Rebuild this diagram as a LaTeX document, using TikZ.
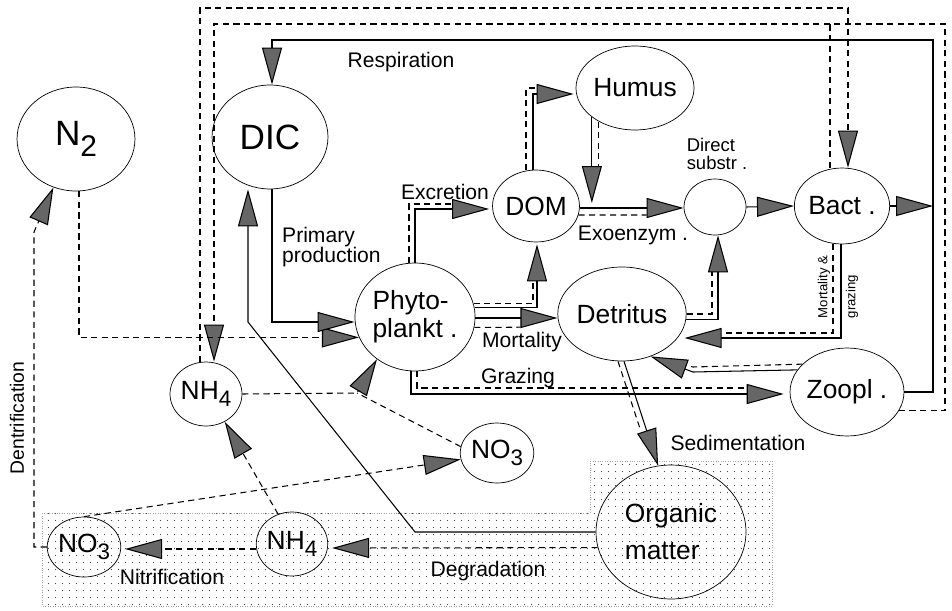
\documentclass[tikz,border=0pt]{standalone}
\usepackage{fontspec}
\setmainfont{Liberation Sans}
\usetikzlibrary{shapes.geometric,arrows.meta,calc,patterns.meta}

\newcommand\lowidx[1]{\raisebox{-0.55ex}{\scalebox{0.85}{#1}}}
\newcommand\bigfont{\fontsize{20}{22}\selectfont}
\newcommand\midfont{\fontsize{15}{16}\selectfont}
\newcommand\labfont{\fontsize{12}{11.5}\selectfont}
\newcommand\smallfont{\fontsize{10.5}{10}\selectfont}
\newcommand\tinyfont{\fontsize{7.5}{8}\selectfont}

\tikzset{
  pool/.style={draw, ellipse, inner sep=0pt, align=left, font=\midfont},
  dims/.style 2 args={minimum width=#1*0.04cm, minimum height=#2*0.04cm},
  carbon/.style={line width=0.6pt},
  nitro/.style={line width=0.6pt, dash pattern=on 3.5pt off 2.5pt},
  joined/.style={shorten >=0.74cm},
  sediment/.style={pattern={Dots[distance=0.14cm, radius=0.4pt]}, pattern color=black!70,
    draw=black!35, densely dotted}
}

\begin{document}
\begin{tikzpicture}[x=0.02cm, y=-0.02cm, >={Triangle[length=0.74cm, width=0.4cm, fill=black!60]}]
\useasboundingbox (0,0) rectangle (952,611);

% the sediment layer
\draw[sediment] (42,513) -- (590,513) -- (590,461) -- (772,461) -- (772,606) -- (42,606) -- cycle;

% the pools
\node[pool, dims={59}{52}, font=\bigfont] (n2) at (76,139) {N\lowidx{2}};
\node[pool, dims={58}{52}, font=\bigfont] (dic) at (270,137) {DIC};
\node[pool, dims={46}{42}] (humus) at (635,88) {Humus};
\node[pool, dims={40}{36}] (dom) at (536,206) {DOM};
\node[pool, dims={31}{28}] (sub) at (715,207) {};
\node[pool, dims={43}{38}] (bact) at (842,206) {Bact .};
\node[pool, dims={60}{54}] (phyto) at (415,317) {Phyto-\\plankt .};
\node[pool, dims={52}{47}] (detr) at (622,314) {Detritus};
\node[pool, dims={49}{44}] (zoopl) at (847,392) {Zoopl .};
\node[pool, dims={36}{32}] (nhup) at (206,394) {NH\lowidx{4}};
\node[pool, dims={35}{30}] (noup) at (497,453) {NO\lowidx{3}};
\node[pool, dims={34}{30}] (nolo) at (84,547) {NO\lowidx{3}};
\node[pool, dims={35}{32}] (nhlo) at (292,544) {NH\lowidx{4}};
\node[pool, dims={75}{67}] (org) at (671,532) {Organic\\[5pt]matter};

\coordinate (rline) at (933,40);
\coordinate (nline) at (945,24);
\coordinate (hdrop) at (599,203);
\coordinate (zbend) at (693,372);

% nitrogen flows
\draw[nitro,->] ($(nhup.north)+(-6,0)$) |- (848,8) -- ($(bact.north)+(6,0)$);
\draw[nitro,->] (zoopl.-20) -| (nline) -| ($(nhup.north)+(8,0)$);
\draw[nitro] ($(bact.north)+(-12,0)$) coordinate (bx) -- (bx |- nline);
\draw[nitro,->] ($(n2.south)+(3,0)$) |- (phyto.200);
\draw[nitro,->] (nolo.west) -| (34,232) -- (n2.245);
\draw[nitro,->] (org.192) -- ($(nhlo.east)+(4,4)$);
\draw[nitro,->] ($(nhlo.west)+(0,5)$) -- ($(nolo.east)+(4,2)$);
\draw[nitro,->] (nhlo.115) -- (nhup.-56);
\draw[nitro,->] (nolo.north) -- (noup.190);
\draw[nitro,->] (nhup.east) -- (357,393) coordinate (uptake) -- (phyto.228);
\draw[nitro] (noup.170) -- (uptake);
\draw[nitro,joined] ($(phyto.north)+(-6,0)$) |- ($(dom.west)+(-3,-2)$);
\draw[nitro,joined] (phyto.13) -| ($(dom.south)+(-3,2)$);
\draw[nitro,joined] (phyto.-10) -- ($(detr.west)+(0,13)$);
\draw[nitro,joined] ($(phyto.south)+(2,0)$) |- ($(zoopl.west)+(-6,-4)$);
\draw[nitro,joined] ($(dom.north)+(-10,0)$) |- ($(humus.west)+(-2,0)$);
\draw[nitro,joined] (humus.223) -- (humus.223 |- hdrop);
\draw[nitro,joined] (dom.-12) -- ($(sub.west)+(0,8)$);
\draw[nitro,joined] (detr.east) -| ($(sub.south)+(-3,0)$);
\draw[nitro,joined] ($(bact.south)+(-9,0)$) |- ($(detr.east)+(-2,19)$);
\draw[nitro,joined] (zoopl.148) -- ($(zbend)+(0,-5)$) -- (detr.-56);
\draw[nitro,joined] ($(detr.south)+(-4,0)$) -- ($(org.101)+(-6,0)$);

% carbon flows
\draw[carbon,->] (zoopl.east) -| (rline) -| ($(dic.north)+(2,0)$);
\draw[carbon,->] (bact.east) -- (bact.east -| rline);
\draw[carbon,->] ($(dic.south)+(2,0)$) |- ($(phyto.west)+(0,5)$);
\draw[carbon,->] (org.west) -- (415,532) -- (248,322) -- ($(dic.south)+(-22,0)$);
\draw[carbon,->] (phyto.north) |- ($(dom.west)+(-3,3)$);
\draw[carbon,->] (phyto.9) -| ($(dom.south)+(1,2)$);
\draw[carbon,->] ($(phyto.east)+(0,1)$) -- ($(detr.west)+(0,4)$);
\draw[carbon,->] ($(phyto.south)+(-4,0)$) |- ($(zoopl.west)+(-6,2)$);
\draw[carbon,->] ($(dom.north)+(-3,0)$) |- ($(humus.west)+(-2,6)$);
\draw[carbon,->] (humus.214) -- (humus.214 |- hdrop);
\draw[carbon,->] ($(dom.east)+(0,2)$) -- ($(sub.west)+(0,1)$);
\draw[carbon,->] (sub.east) -- (bact.west);
\draw[carbon,->] (detr.-5) -| ($(sub.south)+(3,0)$);
\draw[carbon,->] ($(bact.south)+(-1,0)$) |- ($(detr.east)+(-2,24)$);
\draw[carbon,->] (zoopl.156) -- (zbend) -- (detr.-56);
\draw[carbon,->] ($(detr.south)+(2,0)$) -- (org.101);

% the labels
\node[font=\labfont] (lresp) at (401,62) {Respiration};
\node[font=\labfont, align=left, anchor=west] (lprim) at (276,247) {Primary\\production};
\node[font=\labfont] (lexcr) at (445,192) {Excretion};
\node[font=\labfont] (lmort) at (522,342) {Mortality};
\node[font=\labfont] (lgraz) at (518,378) {Grazing};
\node[font=\labfont] (lexo) at (633,235) {Exoenzym .};
\node[font=\smallfont, align=left] (ldir) at (717,154) {Direct\\substr .};
\node[font=\labfont] (lsed) at (738,443) {Sedimentation};
\node[font=\labfont] (ldeg) at (488,571) {Degradation};
\node[font=\labfont] (lnitr) at (172,577) {Nitrification};
\node[font=\fontsize{11}{12}\selectfont, rotate=90] (ldentr) at (17,418) {Dentrification};
\node[font=\tinyfont, rotate=90, align=left] (lbmort) at (838,287) {Mortality \&\\[8pt]grazing};
\end{tikzpicture}
\end{document}
